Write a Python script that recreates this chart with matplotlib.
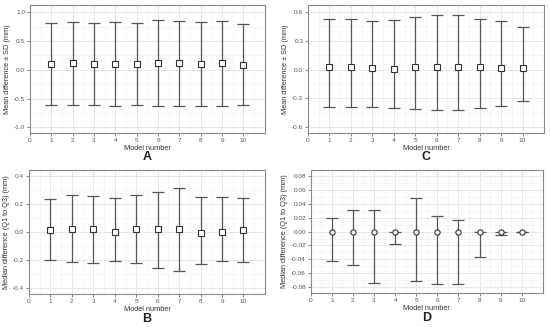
import matplotlib.pyplot as plt
import numpy as np

plt.rcParams['font.family'] = ['Liberation Sans', 'DejaVu Sans']

modelos = [1, 2, 3, 4, 5, 6, 7, 8, 9, 10]

# A: media +- DP (modelo 1)
media_a = [0.10, 0.11, 0.10, 0.10, 0.10, 0.11, 0.11, 0.10, 0.11, 0.09]
sup_a = [0.815, 0.83, 0.82, 0.83, 0.815, 0.86, 0.85, 0.83, 0.84, 0.79]
inf_a = [-0.607, -0.61, -0.62, -0.63, -0.61, -0.636, -0.63, -0.636, -0.63, -0.61]

# C: media +- DP (modelo 2)
media_c = [0.03, 0.03, 0.02, 0.01, 0.03, 0.025, 0.025, 0.025, 0.02, 0.02]
sup_c = [0.528, 0.528, 0.51, 0.517, 0.549, 0.566, 0.566, 0.528, 0.503, 0.448]
inf_c = [-0.389, -0.385, -0.389, -0.403, -0.41, -0.424, -0.42, -0.403, -0.375, -0.33]

# B: mediana (Q1 a Q3)
med_b = [0.015, 0.025, 0.022, 0.0, 0.025, 0.025, 0.022, -0.002, 0.005, 0.015]
q3_b = [0.235, 0.267, 0.26, 0.247, 0.265, 0.286, 0.316, 0.251, 0.249, 0.247]
q1_b = [-0.196, -0.21, -0.217, -0.205, -0.221, -0.256, -0.276, -0.228, -0.203, -0.214]

# D: mediana (Q1 a Q3)
med_d = [0, 0, 0, 0, 0, 0, 0, 0, 0, 0]
q3_d = [0.0199, 0.031, 0.0314, 0.0, 0.048, 0.0227, 0.017, 0.0, 0.0, 0.0]
q1_d = [-0.042, -0.0486, -0.0735, -0.0176, -0.0708, -0.0758, -0.0745, -0.0365, -0.0055, 0.0]

fig = plt.figure(figsize=(5.5, 3.27), dpi=100)

def painel(pos, centro, sup, inf, ylim, yticks, ymenor, fmt, ylabel, letra, marcador, yletra):
    ax = fig.add_axes(pos)
    centro = np.array(centro)
    erro = [centro - np.array(inf), np.array(sup) - centro]
    ax.errorbar(modelos, centro, yerr=erro, fmt='none', ecolor='#555555',
                elinewidth=0.9, capsize=4.3, capthick=0.9, zorder=2)
    ax.plot(modelos, centro, linestyle='none', marker=marcador, markersize=3.8,
            markerfacecolor='white', markeredgecolor='#333333', markeredgewidth=0.8, zorder=3)
    ax.set_xlim(0, 11)
    ax.set_ylim(*ylim)
    ax.set_xticks(range(0, 11))
    ax.set_xticks(np.arange(0.5, 11, 1), minor=True)
    ax.set_yticks(yticks)
    ax.set_yticks(ymenor, minor=True)
    ax.set_yticklabels([fmt.format(v) for v in yticks])
    ax.grid(which='major', color='#e3e3e3', linewidth=0.6)
    ax.grid(which='minor', color='#f0f0f0', linewidth=0.4)
    ax.set_axisbelow(True)
    for s in ax.spines.values():
        s.set_color('#8a8a8a')
        s.set_linewidth(0.8)
    ax.tick_params(which='major', labelsize=4.6, labelcolor='#555555', color='#555555',
                   length=2, width=0.5, pad=1.5)
    ax.tick_params(which='minor', length=0)
    ax.set_xlabel('Model number', fontsize=5.3, color='#333333', labelpad=1.5)
    ax.set_ylabel(ylabel, fontsize=5.3, color='#333333', labelpad=2)
    ax.text(0.5, yletra, letra, transform=ax.transAxes, ha='center', va='center',
            fontsize=9, fontweight='bold', color='#222222')
    return ax

painel([0.0545, 0.593, 0.427, 0.391], media_a, sup_a, inf_a, (-1.1, 1.12),
       [-1.0, -0.5, 0.0, 0.5, 1.0], [-0.75, -0.25, 0.25, 0.75], '{:.1f}',
       'Mean difference ± SD (mm)', 'A', 's', -0.19)
painel([0.56, 0.593, 0.429, 0.391], media_c, sup_c, inf_c, (-0.66, 0.67),
       [-0.6, -0.3, 0.0, 0.3, 0.6], [-0.45, -0.15, 0.15, 0.45], '{:.1f}',
       'Mean difference ± SD (mm)', 'C', 's', -0.19)
painel([0.0527, 0.101, 0.429, 0.379], med_b, q3_b, q1_b, (-0.44, 0.445),
       [-0.4, -0.2, 0.0, 0.2, 0.4], [-0.3, -0.1, 0.1, 0.3], '{:.1f}',
       'Median difference (Q1 to Q3) (mm)', 'B', 's', -0.2)
painel([0.565, 0.104, 0.422, 0.376], med_d, q3_d, q1_d, (-0.088, 0.088),
       [-0.08, -0.06, -0.04, -0.02, 0.0, 0.02, 0.04, 0.06, 0.08],
       [-0.07, -0.05, -0.03, -0.01, 0.01, 0.03, 0.05, 0.07], '{:.2f}',
       'Median difference (Q1 to Q3) (mm)', 'D', 'o', -0.2)

fig.savefig('out.png', dpi=100)
